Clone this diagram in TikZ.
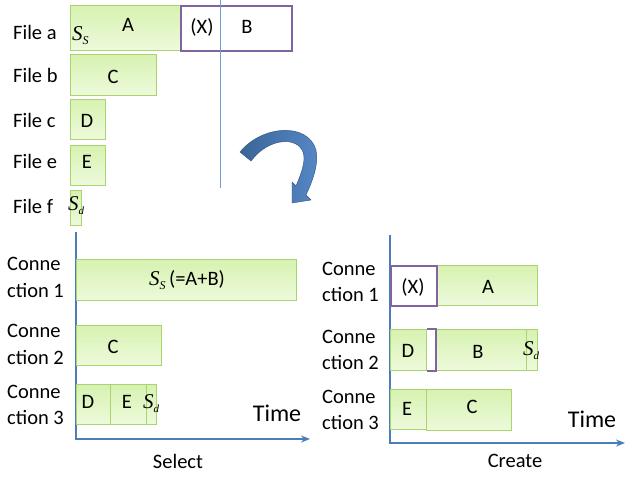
\documentclass[tikz,border=0pt]{standalone}
\usepackage{fontspec}
\setmainfont{Carlito}
\newfontfamily\tms{Liberation Serif}
\usetikzlibrary{arrows.meta}
\definecolor{gbd}{HTML}{A9D46F}
\definecolor{gtop}{HTML}{D6F2B0}
\definecolor{gbot}{HTML}{EEFADC}
\definecolor{pur}{HTML}{8064A2}
\definecolor{axb}{HTML}{4A7EBB}
\definecolor{thinb}{HTML}{6F9BD8}
\definecolor{arrA}{HTML}{3A6598}
\definecolor{arrB}{HTML}{5687C6}
\newcommand{\Ss}{{\tms\itshape S}\raisebox{-4pt}{\fontsize{12}{12}\selectfont\tms\itshape S}}
\newcommand{\Sd}{{\tms\itshape S}\raisebox{-4pt}{\fontsize{11}{11}\selectfont\tms\itshape d}}
\tikzset{
  gbox/.style={draw=gbd, line width=0.8pt, top color=gtop, bottom color=gbot, inner sep=0, anchor=north west},
  pbox/.style={draw=pur, line width=1.6pt, fill=white, inner sep=0, anchor=north west},
  lbl/.style={font=\fontsize{20.5}{20.5}\selectfont, inner sep=0},
  mth/.style={font=\fontsize{21}{21}\selectfont, inner sep=0},
  axis/.style={draw=axb, line width=2pt, line join=miter, -{Stealth[length=9pt,width=7pt]}},
}
\begin{document}
\begin{tikzpicture}[x=1pt,y=-1pt]
\useasboundingbox (0,0) rectangle (626,477);
% ---------- top: files ----------
\node[gbox, minimum width=110pt, minimum height=45pt] (bA) at (70,5) {};
\node[pbox, minimum width=111pt, minimum height=45pt] (bX) at (180,5) {};
\draw[thinb, line width=0.9pt] (220,0) -- (220,188);
\node[lbl] (tA) at (128,25) {A};
\node[lbl] (tX) at (202,27) {(X)};
\node[lbl] (tB) at (247,27) {B};
\node[mth, anchor=west] (tSs) at (72,36) {\Ss};
\node[gbox, minimum width=86pt, minimum height=41pt] (bC) at (70,54) {};
\node[lbl] (tC) at (113,77) {C};
\node[gbox, minimum width=35pt, minimum height=40pt] (bD) at (70,99) {};
\node[lbl] (tD) at (87,121) {D};
\node[gbox, minimum width=35pt, minimum height=40pt] (bE) at (70,145) {};
\node[lbl] (tE) at (87,162) {E};
\node[gbox, minimum width=11pt, minimum height=35pt] (bSd) at (70,190) {};
\node[mth, anchor=west] (tSd) at (68,206) {\Sd};
\node[lbl, anchor=west] (fa) at (13,32) {File a};
\node[lbl, anchor=west] (fb) at (13,75) {File b};
\node[lbl, anchor=west] (fc) at (13,120) {File c};
\node[lbl, anchor=west] (fe) at (13,161) {File e};
\node[lbl, anchor=west] (ff) at (13,206) {File f};
% ---------- curved arrow ----------
\path[left color=arrA, right color=arrB, draw=arrA!80!black, line width=0.4pt]
  (240,152) .. controls (262,125) and (308,122) .. (316,150)
  .. controls (319,165) and (312,182) .. (306,195)
  -- (311,200) -- (292,203) -- (292,182) -- (296,186)
  .. controls (302,172) and (306,160) .. (303,152)
  .. controls (297,136) and (268,138) .. (251,161) -- cycle;
% ---------- bottom left: Select ----------
\coordinate (o1) at (76,439);
\draw[axis] (76,232) -- (o1) -- (310,439);
\node[gbox, minimum width=220pt, minimum height=41pt] (s1) at (76,259) {};
\node[mth] (s1t) at (187,280) {\Ss\,\fontsize{20.5}{20.5}\selectfont\rmfamily(=A+B)};
\node[gbox, minimum width=85pt, minimum height=40pt] (s2) at (76,325) {};
\node[lbl] (s2t) at (113,347) {C};
\node[gbox, minimum width=34pt, minimum height=40pt] (s3d) at (76,384) {};
\node[gbox, minimum width=36pt, minimum height=40pt] (s3e) at (110,384) {};
\node[gbox, minimum width=10pt, minimum height=40pt] (s3s) at (146,384) {};
\node[lbl] (s3dt) at (88,402) {D};
\node[lbl] (s3et) at (127,402) {E};
\node[mth, anchor=west] (s3st) at (143,404) {\Sd};
\node[lbl, anchor=west] (l1a) at (7,264) {Conne};
\node[lbl, anchor=west] (l1b) at (7,290) {ction 1};
\node[lbl, anchor=west] (l2a) at (7,331) {Conne};
\node[lbl, anchor=west] (l2b) at (7,357) {ction 2};
\node[lbl, anchor=west] (l3a) at (7,392) {Conne};
\node[lbl, anchor=west] (l3b) at (7,417) {ction 3};
\node[font=\fontsize{24}{24}\selectfont, inner sep=0] (time1) at (277,413) {Time};
\node[lbl] (sel) at (178,461) {Select};
% ---------- bottom right: Create ----------
\coordinate (o2) at (390,443);
\draw[axis] (390,235) -- (o2) -- (625,443);
\node[gbox, minimum width=101pt, minimum height=40pt] (c1a) at (436,265) {};
\node[pbox, minimum width=46pt, minimum height=40pt] (c1x) at (390,265) {};
\node[lbl] (c1xt) at (413,287) {(X)};
\node[lbl] (c1at) at (488,287) {A};
\node[gbox, minimum width=36pt, minimum height=41pt] (c2d) at (390,329) {};
\node[gbox, minimum width=90pt, minimum height=41pt] (c2b) at (436,329) {};
\node[gbox, minimum width=11pt, minimum height=41pt] (c2s) at (526,329) {};
\draw[pur, line width=1.6pt] (c2b.north west) ++(-9,0) -- (c2b.north west) -- (c2b.south west) -- ++(-9,0);
\node[lbl] (c2dt) at (408,351) {D};
\node[lbl] (c2bt) at (478,352) {B};
\node[mth, anchor=west] (c2st) at (523,351) {\Sd};
\node[gbox, minimum width=36pt, minimum height=40pt] (c3e) at (390,389) {};
\node[gbox, minimum width=85pt, minimum height=41pt] (c3c) at (426,389) {};
\node[lbl] (c3et) at (407,409) {E};
\node[lbl] (c3ct) at (472,407) {C};
\node[lbl, anchor=west] (r1a) at (322,269) {Conne};
\node[lbl, anchor=west] (r1b) at (322,294) {ction 1};
\node[lbl, anchor=west] (r2a) at (322,337) {Conne};
\node[lbl, anchor=west] (r2b) at (322,362) {ction 2};
\node[lbl, anchor=west] (r3a) at (322,397) {Conne};
\node[lbl, anchor=west] (r3b) at (322,422) {ction 3};
\node[font=\fontsize{24}{24}\selectfont, inner sep=0] (time2) at (592,419) {Time};
\node[lbl] (cre) at (515,461) {Create};
\end{tikzpicture}
\end{document}
